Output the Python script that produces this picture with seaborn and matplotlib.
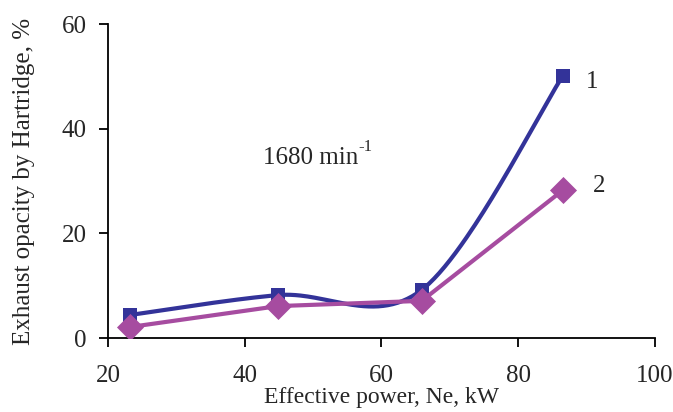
import numpy as np
import matplotlib
matplotlib.use("Agg")
import matplotlib.pyplot as plt
import seaborn as sns
import pandas as pd

power = [23.2, 44.9, 65.9, 86.5]
opacity_1 = [4.4, 8.2, 9.2, 50.0]
opacity_2 = [2.1, 6.1, 7.1, 28.2]
series_labels = ["1", "2"]
x_ticks = [20, 40, 60, 80, 100]
y_ticks = [0, 20, 40, 60]

sns.set_style("ticks")
plt.rcParams["font.family"] = ["Liberation Serif", "DejaVu Serif"]

blue = "#333399"
mag = "#A64CA0"

fig = plt.figure(figsize=(6.73, 4.12), dpi=100)
ax = fig.add_axes([0.1605, 0.1796, 0.8125, 0.762])
ax.set_xlim(20, 100)
ax.set_ylim(0, 60)

df = pd.DataFrame({"power": power, "o1": opacity_1, "o2": opacity_2})

# smoothed curve for series 1 (Catmull-Rom Bezier in display space)
fig.canvas.draw()
pts = ax.transData.transform(np.column_stack([power, opacity_1]))
n = len(pts)
curve = []
for i in range(n - 1):
    p0 = pts[i - 1] if i > 0 else pts[i]
    p1 = pts[i]
    p2 = pts[i + 1]
    p3 = pts[i + 2] if i + 2 < n else pts[i + 1]
    c1 = p1 + (p2 - p0) / 6
    c2 = p2 - (p3 - p1) / 6
    t = np.linspace(0, 1, 60)[:, None]
    seg = (1 - t) ** 3 * p1 + 3 * (1 - t) ** 2 * t * c1 + 3 * (1 - t) * t ** 2 * c2 + t ** 3 * p2
    curve.append(seg)
curve = ax.transData.inverted().transform(np.vstack(curve))
ax.plot(curve[:, 0], curve[:, 1], color=blue, lw=3, solid_capstyle="round", zorder=3)
sns.scatterplot(data=df, x="power", y="o1", ax=ax, marker="s", s=110, color=blue,
                edgecolor=blue, linewidth=0, zorder=4)

sns.lineplot(data=df, x="power", y="o2", ax=ax, color=mag, lw=3, zorder=5)
sns.scatterplot(data=df, x="power", y="o2", ax=ax, marker="D", s=190, color=mag,
                edgecolor=mag, linewidth=0, zorder=6)

ax.set_xticks(x_ticks)
ax.set_yticks(y_ticks)
ax.tick_params(axis="both", labelsize=18, direction="out", length=6.5, width=1.3,
               color="black")
ax.tick_params(axis="y", pad=9)
ax.tick_params(axis="x", pad=13)
ax.set_xlabel("Effective power, Ne, kW", fontsize=17, labelpad=0)
ax.set_ylabel("Exhaust opacity by Hartridge, %", fontsize=18, labelpad=19)
for s in ["left", "bottom"]:
    ax.spines[s].set_linewidth(1.3)
    ax.spines[s].set_color("black")
sns.despine(ax=ax)

ax.text(90.8, 49.0, series_labels[0], fontsize=18, va="center", ha="center")
ax.text(91.9, 29.0, series_labels[1], fontsize=18, va="center", ha="center")
t1 = ax.text(42.7, 34.4, "1680 min", fontsize=18, va="center", ha="left")
ax.annotate("-1", xy=(1.0, 0.62), xycoords=t1, fontsize=12, ha="left", va="bottom")

fig.savefig("out.png", dpi=100)
